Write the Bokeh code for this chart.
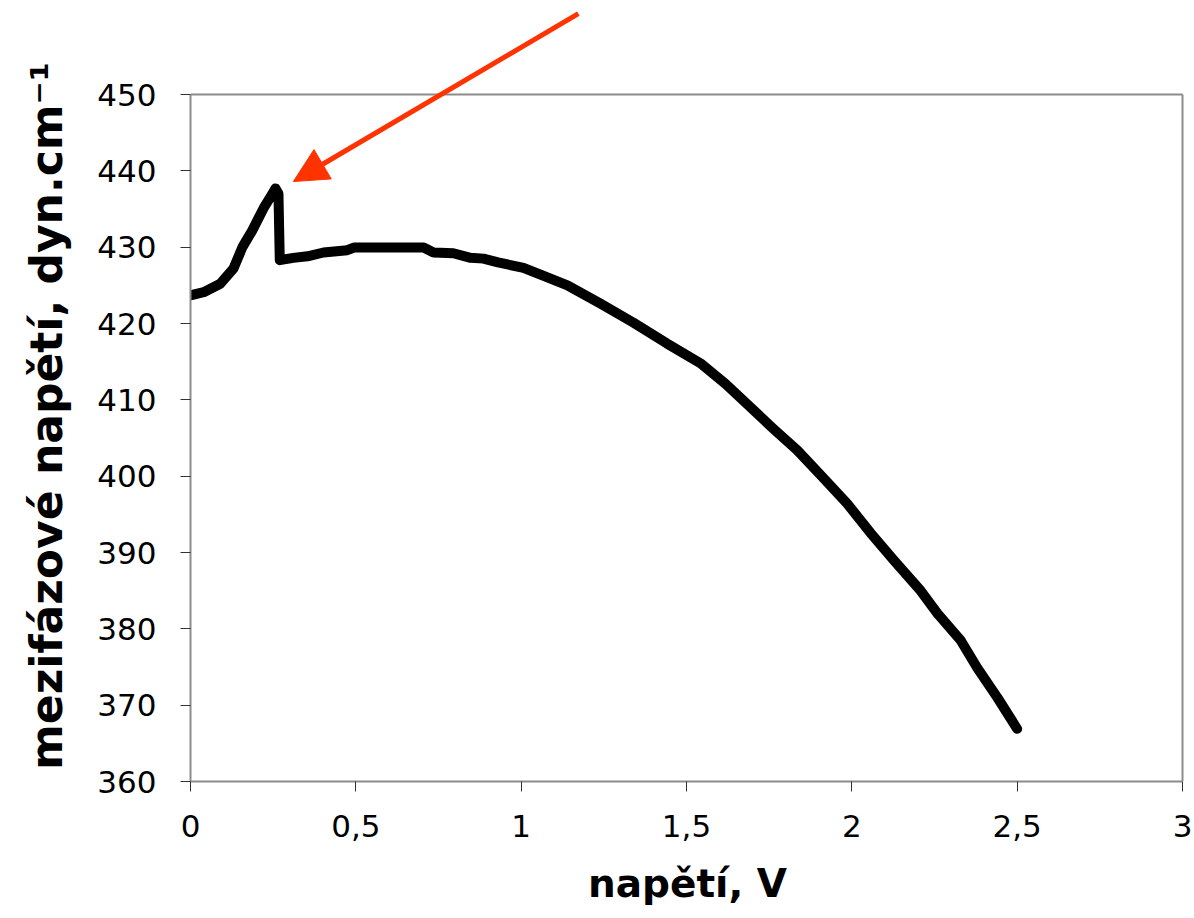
from bokeh.plotting import figure
from bokeh.models import Range1d, FixedTicker, Arrow, NormalHead
from bokeh.embed import file_html
from bokeh.resources import INLINE

# ---- data ----
napeti_V = [0, 0.04, 0.09, 0.13, 0.157, 0.187, 0.221, 0.248, 0.257, 0.266, 0.27,
            0.311, 0.354, 0.402, 0.474, 0.494, 0.705, 0.735, 0.795, 0.847, 0.886,
            0.93, 1.007, 1.07, 1.14, 1.24, 1.34, 1.44, 1.542, 1.618, 1.694, 1.763,
            1.835, 1.915, 1.986, 2.056, 2.127, 2.208, 2.259, 2.329, 2.379, 2.44, 2.5]
mezifazove_napeti = [423.7, 424.1, 425.2, 427.2, 430.0, 432.2, 435.1, 437.0, 437.7, 437.0, 428.3,
                     428.6, 428.8, 429.3, 429.6, 429.95, 429.95, 429.3, 429.2, 428.6, 428.5,
                     428.0, 427.3, 426.2, 425.0, 422.6, 420.1, 417.4, 414.8, 412.1, 409.0, 406.2,
                     403.4, 399.7, 396.4, 392.6, 389.0, 385.0, 382.0, 378.5, 374.9, 371.0, 366.9]

x_ticks = [0, 0.5, 1, 1.5, 2, 2.5, 3]
x_tick_labels = ["0", "0,5", "1", "1,5", "2", "2,5", "3"]
y_ticks = [360, 370, 380, 390, 400, 410, 420, 430, 440, 450]
y_tick_labels = ["360", "370", "380", "390", "400", "410", "420", "430", "440", "450"]

arrow_start = (1.173, 460.6)
arrow_end = (0.311, 438.6)

x_title = "napětí, V"
y_title = "mezifázové napětí, dyn.cm⁻¹"

# ---- layout ----
FRAME_W, FRAME_H = 994, 777       # frame reaches above the axes box so the arrow can leave it
AXES_W, AXES_H = 992, 687          # pixel size of the 0..3 x 360..450 box
x0, x1 = x_ticks[0], x_ticks[-1]
y0, y1 = y_ticks[0], y_ticks[-1]
x_end = x0 + (x1 - x0) * FRAME_W / AXES_W
y_end = y0 + (y1 - y0) * FRAME_H / AXES_H

p = figure(frame_width=FRAME_W, frame_height=FRAME_H, output_backend="svg", toolbar_location=None,
           x_range=Range1d(x0, x_end), y_range=Range1d(y0, y_end),
           min_border_left=190, min_border_right=8, min_border_top=4, min_border_bottom=130)

p.background_fill_color = "white"
p.border_fill_color = "white"
p.outline_line_color = None
p.xgrid.visible = False
p.ygrid.visible = False

frame_col = "#8c8c8c"
# top and right border of the axes box
p.line([x0, x1], [y1, y1], line_color=frame_col, line_width=2)
p.line([x1, x1], [y0, y1], line_color=frame_col, line_width=2)

p.line(napeti_V, mezifazove_napeti, line_color="black", line_width=10,
       line_cap="round", line_join="round")

p.add_layout(Arrow(end=NormalHead(size=34, fill_color="#FF3300", line_color="#FF3300", line_width=1),
                   x_start=arrow_start[0], y_start=arrow_start[1],
                   x_end=arrow_end[0], y_end=arrow_end[1],
                   line_color="#FF3300", line_width=5))

for ax, ticks, labels, bounds in ((p.xaxis[0], x_ticks, x_tick_labels, (x0, x1)),
                                  (p.yaxis[0], y_ticks, y_tick_labels, (y0, y1))):
    ax.ticker = FixedTicker(ticks=ticks)
    ax.major_label_overrides = {t: l for t, l in zip(ticks, labels)}
    ax.bounds = bounds
    ax.axis_line_color = frame_col
    ax.axis_line_width = 2
    ax.major_tick_line_color = "#333333"
    ax.major_tick_line_width = 1
    ax.major_tick_out = 10
    ax.major_tick_in = 0
    ax.minor_tick_line_color = None
    ax.major_label_text_font = "DejaVu Sans"
    ax.major_label_text_font_size = "31px"
    ax.major_label_text_color = "black"
    ax.axis_label_text_font = "DejaVu Sans"
    ax.axis_label_text_font_style = "bold"
    ax.axis_label_text_color = "black"

p.xaxis.axis_label = x_title
p.xaxis.axis_label_text_font_size = "39px"
p.xaxis.major_label_standoff = 23
p.xaxis.axis_label_standoff = 21

# trailing no-break spaces shift the centred title down to the axes box centre
p.yaxis.axis_label = y_title + "\u00a0\u00a0\u00a0"
p.yaxis.axis_label_text_font_size = "44px"
p.yaxis.major_label_standoff = 24
p.yaxis.axis_label_standoff = 22

open("out.html", "w").write(file_html(p, INLINE))
